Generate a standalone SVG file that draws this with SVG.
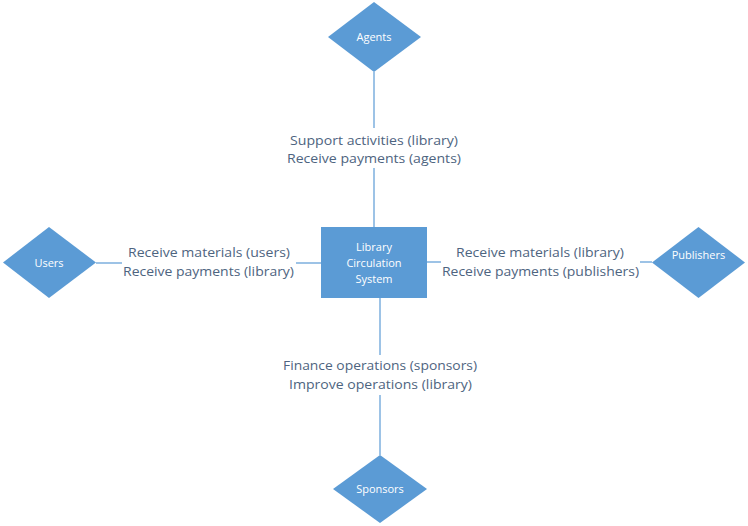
<svg xmlns="http://www.w3.org/2000/svg" width="748" height="526" viewBox="0 0 748 526">
<style>
.node{fill:#5B9BD5;}
.nt{font-family:"Open Sans","Noto Sans",sans-serif;font-size:11px;fill:#FFFFFF;text-anchor:middle;}
.lt{font-family:"Open Sans","Noto Sans",sans-serif;font-size:13px;fill:#4E6480;text-anchor:middle;}
.edge{stroke:#9DC3E6;stroke-width:2;fill:none;}
</style>
<rect width="748" height="526" fill="#FFFFFF"/>
<g id="connectors">
<line class="edge" x1="374" y1="72" x2="374" y2="128"/>
<line class="edge" x1="374" y1="168" x2="374" y2="227"/>
<line class="edge" x1="96" y1="263" x2="122" y2="263"/>
<line class="edge" x1="296" y1="263" x2="321" y2="263"/>
<line class="edge" x1="427" y1="262" x2="441" y2="262"/>
<line class="edge" x1="640" y1="262" x2="652" y2="262"/>
<line class="edge" x1="380" y1="298" x2="380" y2="355"/>
<line class="edge" x1="380" y1="395" x2="380" y2="455"/>
</g>
<g id="labels">
<text class="lt" x="374" y="145" textLength="168" lengthAdjust="spacingAndGlyphs">Support activities (library)</text>
<text class="lt" x="374" y="163" textLength="174" lengthAdjust="spacingAndGlyphs">Receive payments (agents)</text>
<text class="lt" x="209" y="257" textLength="162" lengthAdjust="spacingAndGlyphs">Receive materials (users)</text>
<text class="lt" x="208.5" y="276" textLength="171" lengthAdjust="spacingAndGlyphs">Receive payments (library)</text>
<text class="lt" x="540" y="257" textLength="168" lengthAdjust="spacingAndGlyphs">Receive materials (library)</text>
<text class="lt" x="540.5" y="276" textLength="197" lengthAdjust="spacingAndGlyphs">Receive payments (publishers)</text>
<text class="lt" x="380" y="370" textLength="194" lengthAdjust="spacingAndGlyphs">Finance operations (sponsors)</text>
<text class="lt" x="380.5" y="389" textLength="183" lengthAdjust="spacingAndGlyphs">Improve operations (library)</text>
</g>
<g id="agents">
<polygon class="node" points="374,2 421,37 374,72 328,37"/>
<text class="nt" x="374" y="41">Agents</text>
</g>
<g id="users">
<polygon class="node" points="49,227 96,262.5 49,298 3,262.5"/>
<text class="nt" x="49" y="267">Users</text>
</g>
<g id="system">
<rect class="node" x="321" y="227" width="106" height="71"/>
<text class="nt" x="374" y="251">Library</text>
<text class="nt" x="374" y="267">Circulation</text>
<text class="nt" x="374" y="283">System</text>
</g>
<g id="publishers">
<polygon class="node" points="698.5,227 745,262.5 698.5,298 652,262.5"/>
<text class="nt" x="698.5" y="259">Publishers</text>
</g>
<g id="sponsors">
<polygon class="node" points="380,455 427,489 380,523 333,489"/>
<text class="nt" x="380" y="493">Sponsors</text>
</g>
</svg>
